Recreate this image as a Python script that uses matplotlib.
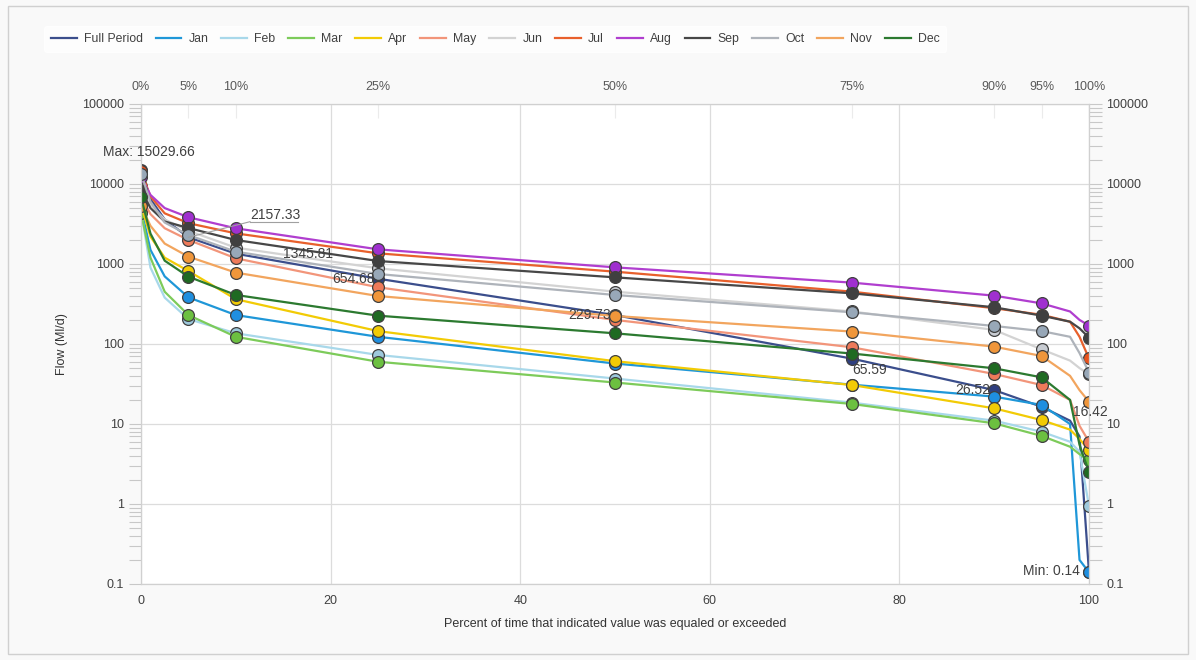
import matplotlib
matplotlib.use("Agg")
import matplotlib.pyplot as plt
from matplotlib.ticker import FixedLocator, LogLocator, NullFormatter

plt.rcParams['font.family'] = ['Liberation Sans', 'DejaVu Sans']

# Exceedance percentiles (markers at the standard ones)
pct = [0, 1, 2.5, 5, 10, 25, 50, 75, 90, 95, 98, 99, 100]
marker_pct = [0, 5, 10, 25, 50, 75, 90, 95, 100]

series_names = ["Full Period", "Jan", "Feb", "Mar", "Apr", "May", "Jun",
                "Jul", "Aug", "Sep", "Oct", "Nov", "Dec"]

full_period = [15029.66, 6500, 3600, 2157.33, 1345.81, 654.68, 229.73, 65.59, 26.52, 16.42, 11, 7, 0.14]
jan = [5000, 1500, 700, 383, 230, 123, 57, 31, 22, 17.3, 10, 0.2, 0.14]
feb = [4600, 900, 380, 205, 136, 73, 37, 18.5, 11, 8, 6, 4.5, 0.94]
mar = [4380, 1200, 450, 230, 123, 60, 33, 17.8, 10.2, 7.1, 5.2, 4.2, 3.5]
apr = [5500, 2200, 1200, 817, 363, 145, 61, 30.7, 15.7, 11.2, 8.5, 6.5, 4.7]
may = [7000, 4200, 2800, 2000, 1178, 512, 200, 91, 42.2, 30.7, 20, 9.5, 6]
jun = [9500, 5500, 3600, 2600, 1600, 884, 451, 255, 150, 85.7, 62, 50, 42]
jul = [14500, 7000, 4300, 3236, 2415, 1360, 802, 451, 280, 232, 190, 123, 66]
aug = [12300, 7300, 5000, 3840, 2793, 1525, 908, 585, 402, 322, 255, 200, 170]
sep = [8400, 5000, 3400, 2818, 1995, 1090, 681, 430, 288, 226, 190, 157, 120]
oct_ = [13500, 6000, 3300, 2300, 1426, 750, 410, 249, 168, 145, 123, 77, 44]
nov = [5360, 3000, 1800, 1236, 780, 398, 224, 143, 92.7, 70.8, 40, 26.5, 19]
dec = [6800, 2400, 1100, 695, 410, 226, 136, 76, 49.7, 38.3, 20, 5.5, 2.5]

all_series = [full_period, jan, feb, mar, apr, may, jun, jul, aug, sep, oct_, nov, dec]

colors = ["#3B4E8C", "#1F97D8", "#A8D8EA", "#7DCB5A", "#F2CB05", "#F2957A",
          "#D3D3D3", "#E8602C", "#B03ECF", "#474747", "#AEB3BA", "#F2A55E", "#2C7A30"]
marker_colors = ["#2F3F80", "#1F8FE0", "#9EC9DC", "#6CC040", "#F2CB05", "#EE7A5A",
                 "#C8CCD2", "#E8521C", "#A030D0", "#404040", "#98A8B8", "#F0963A", "#1F6A22"]

fig = plt.figure(figsize=(11.96, 6.6), dpi=100, facecolor="#f9f9f9")
ax = fig.add_axes([141 / 1196, 1 - 584 / 660, 948 / 1196, 480 / 660])
ax.set_facecolor("white")

mk_idx = [pct.index(p) for p in marker_pct]
for name, vals, c, mc in zip(series_names, all_series, colors, marker_colors):
    ax.plot(pct, vals, color=c, lw=1.6, label=name,
            marker="o", markevery=mk_idx, markersize=8.5,
            markerfacecolor=mc, markeredgecolor="#404040", markeredgewidth=0.9)

ax.set_yscale("log")
ax.set_ylim(0.1, 100000)
ax.set_xlim(0, 100)

ax.set_xticks([0, 20, 40, 60, 80, 100])
ax.grid(True, which="major", color="#dcdcdc", lw=0.9)
ax.set_axisbelow(True)

ax.yaxis.set_major_locator(FixedLocator([0.1, 1, 10, 100, 1000, 10000, 100000]))
ax.set_yticklabels(["0.1", "1", "10", "100", "1000", "10000", "100000"])
ax.yaxis.set_minor_locator(LogLocator(base=10, subs=range(2, 10)))
ax.yaxis.set_minor_formatter(NullFormatter())
ax.tick_params(axis="y", which="both", left=True, right=True, labelleft=True, labelright=True,
               colors="#c8c8c8", labelcolor="#404040", labelsize=9, length=9, width=0.8)
ax.tick_params(axis="x", length=0, labelsize=9, labelcolor="#404040", pad=8)

for s in ax.spines.values():
    s.set_color("#d0d0d0")
    s.set_linewidth(0.9)

ax.set_xlabel("Percent of time that indicated value was equaled or exceeded",
              fontsize=9, color="#333333", labelpad=8)
ax.set_ylabel("Flow (Ml/d)", fontsize=9, color="#333333", labelpad=10)

top = ax.secondary_xaxis("top")
top.set_xticks(marker_pct)
top.set_xticklabels([f"{p}%" for p in marker_pct])
top.tick_params(direction="in", length=10, color="#ebebeb", labelsize=9, labelcolor="#595959", pad=8)
top.spines["top"].set_visible(False)

# Annotations for the full period curve
lab = dict(fontsize=10, color="#404040")
ax.text(-4, 25000, "Max: 15029.66", ha="left", va="center", **lab)
ax.text(11.5, 4150, "2157.33", ha="left", va="center", **lab)
ax.plot([11.5, 16.6], [3380, 3380], color="#a0a0a0", lw=0.8)
ax.plot([5, 11.5], [2157.33, 3380], color="#a0a0a0", lw=0.8)
ax.text(15, 1350, "1345.81", ha="left", va="center", **lab)
ax.text(24.7, 654.68, "654.68", ha="right", va="center", **lab)
ax.text(49.6, 229.73, "229.73", ha="right", va="center", **lab)
ax.text(75.0, 47, "65.59", ha="left", va="center", **lab)
ax.text(89.6, 26.52, "26.52", ha="right", va="center", **lab)
ax.text(98.3, 14.2, "16.42", ha="left", va="center", **lab)
ax.text(99.0, 0.145, "Min: 0.14", ha="right", va="center", **lab)

leg = fig.legend(loc="upper left", bbox_to_anchor=(38 / 1196, 1 - 20 / 660), ncol=13,
                 frameon=True, handlelength=2.1, columnspacing=1.05,
                 handletextpad=0.6, borderpad=0.55, prop={"family": "Liberation Sans", "size": 8.8})
leg.get_frame().set_facecolor("white")
leg.get_frame().set_edgecolor("white")
for h in leg.get_lines():
    h.set_marker("")
for t in leg.get_texts():
    t.set_color("#404040")

border = plt.Rectangle((8 / 1196, 6 / 660), 1180 / 1196, 648 / 660, transform=fig.transFigure,
                       fill=False, edgecolor="#d0d0d0", lw=1)
fig.patches.append(border)

fig.savefig("out.png", dpi=100, facecolor=fig.get_facecolor())
